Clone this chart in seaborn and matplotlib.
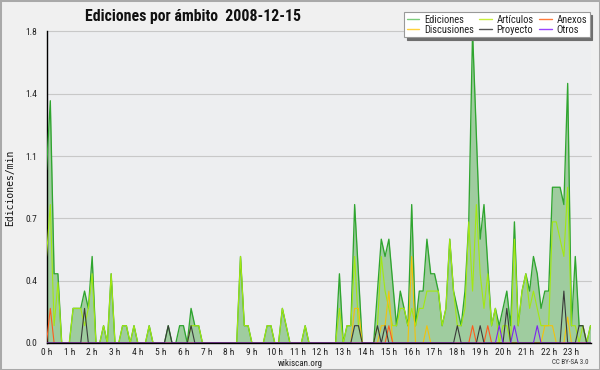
import numpy as np
import pandas as pd
import matplotlib
matplotlib.use("Agg")
import matplotlib.pyplot as plt
import seaborn as sns
from matplotlib import font_manager as fm
from matplotlib.lines import Line2D
from matplotlib.patches import Rectangle

# ---------------- data (10-minute bins, edits per minute) ----------------
hour_labels = [f"{h} h" for h in range(24)]

ediciones = [
    1.0, 1.4, 0.4, 0.4, 0, 0, 0, 0.2, 0.2, 0.2, 0.3, 0.2,
    0.5, 0, 0, 0.1, 0, 0.4, 0, 0, 0.1, 0.1, 0, 0.1,
    0, 0, 0, 0.1, 0, 0, 0, 0, 0.1, 0, 0, 0.1,
    0.1, 0, 0.2, 0.1, 0.1, 0, 0, 0, 0, 0, 0, 0,
    0, 0, 0, 0.5, 0.1, 0.1, 0, 0, 0, 0, 0.1, 0.1,
    0, 0, 0.2, 0.1, 0, 0, 0, 0, 0.1, 0, 0, 0,
    0, 0, 0, 0, 0, 0.4, 0, 0.1, 0.1, 0.8, 0.4, 0,
    0, 0, 0, 0.3, 0.6, 0.5, 0.6, 0.35, 0.1, 0.3, 0.2, 0.1,
    0.8, 0.1, 0.3, 0.3, 0.6, 0.4, 0.4, 0.3, 0.1, 0.2, 0.6, 0.3,
    0.2, 0.1, 0.3, 0.7, 1.8, 1.2, 0.6, 0.8, 0.45, 0.1, 0.2, 0.1,
    0.2, 0.3, 0.1, 0.7, 0.1, 0.3, 0.4, 0.3, 0.5, 0.4, 0.2, 0.3,
    0.3, 0.9, 0.9, 0.9, 0.8, 1.5, 0.1, 0.5, 0.1, 0.1, 0, 0.1,
]

articulos = [
    0.5, 0.8, 0.1, 0.35, 0, 0, 0, 0.2, 0.2, 0.2, 0.1, 0.2,
    0.4, 0, 0, 0.1, 0, 0.4, 0, 0, 0.1, 0.1, 0, 0.1,
    0, 0, 0, 0.1, 0, 0, 0, 0, 0, 0, 0, 0,
    0, 0, 0.1, 0.1, 0.1, 0, 0, 0, 0, 0, 0, 0,
    0, 0, 0, 0.5, 0.1, 0.1, 0, 0, 0, 0, 0.1, 0.1,
    0, 0, 0.2, 0.1, 0, 0, 0, 0, 0.1, 0, 0, 0,
    0, 0, 0, 0, 0, 0.2, 0, 0.1, 0.1, 0.5, 0.1, 0,
    0, 0, 0, 0.1, 0.5, 0.3, 0.2, 0.1, 0.1, 0.2, 0.2, 0.1,
    0.2, 0.1, 0.2, 0.2, 0.3, 0.3, 0.3, 0.3, 0.1, 0.2, 0.6, 0.3,
    0.1, 0.1, 0.2, 0.7, 0.3, 0.8, 0.4, 0.2, 0.4, 0.1, 0.2, 0,
    0.1, 0.1, 0, 0.6, 0.1, 0.3, 0.4, 0.2, 0.3, 0.2, 0.1, 0.1,
    0.1, 0.7, 0.7, 0.6, 0.5, 0.9, 0.1, 0.1, 0, 0.1, 0, 0.1,
]

anexos = [
    0, 0.2, 0, 0, 0, 0, 0, 0, 0, 0, 0, 0,
    0, 0, 0, 0, 0, 0, 0, 0, 0, 0, 0, 0,
    0, 0, 0, 0, 0, 0, 0, 0, 0, 0, 0, 0,
    0, 0, 0, 0, 0, 0, 0, 0, 0, 0, 0, 0,
    0, 0, 0, 0, 0, 0, 0, 0, 0, 0, 0, 0,
    0, 0, 0, 0, 0, 0, 0, 0, 0, 0, 0, 0,
    0, 0, 0, 0, 0, 0, 0, 0, 0, 0, 0, 0,
    0, 0, 0, 0, 0, 0, 0.1, 0, 0, 0, 0, 0,
    0, 0, 0, 0, 0, 0, 0, 0, 0, 0, 0, 0,
    0, 0, 0, 0, 0.1, 0, 0, 0, 0.1, 0, 0, 0,
    0, 0, 0, 0, 0, 0, 0, 0, 0, 0, 0, 0,
    0, 0, 0, 0, 0, 0, 0, 0, 0, 0, 0, 0,
]

discusiones = [
    0, 0, 0, 0, 0, 0, 0, 0, 0, 0, 0, 0,
    0, 0, 0, 0, 0, 0, 0, 0, 0, 0, 0, 0,
    0, 0, 0, 0, 0, 0, 0, 0, 0, 0, 0, 0,
    0, 0, 0, 0, 0, 0, 0, 0, 0, 0, 0, 0,
    0, 0, 0, 0, 0, 0, 0, 0, 0, 0, 0, 0,
    0, 0, 0, 0, 0, 0, 0, 0, 0, 0, 0, 0,
    0, 0, 0, 0, 0, 0, 0, 0, 0, 0.2, 0.2, 0,
    0, 0, 0, 0, 0.1, 0.1, 0.3, 0, 0, 0, 0, 0,
    0.5, 0, 0, 0, 0.1, 0, 0, 0, 0, 0, 0, 0,
    0, 0, 0, 0, 0, 0, 0, 0, 0, 0, 0, 0,
    0, 0, 0, 0, 0, 0, 0, 0, 0, 0, 0, 0.1,
    0.1, 0.1, 0, 0, 0, 0.15, 0, 0, 0, 0, 0, 0,
]

proyecto = [
    0, 0, 0, 0, 0, 0, 0, 0, 0, 0, 0.2, 0,
    0, 0, 0, 0, 0, 0, 0, 0, 0, 0, 0, 0,
    0, 0, 0, 0, 0, 0, 0, 0, 0.1, 0, 0, 0,
    0, 0, 0.1, 0, 0, 0, 0, 0, 0, 0, 0, 0,
    0, 0, 0, 0, 0, 0, 0, 0, 0, 0, 0, 0,
    0, 0, 0, 0, 0, 0, 0, 0, 0, 0, 0, 0,
    0, 0, 0, 0, 0, 0, 0, 0, 0, 0.1, 0.1, 0,
    0, 0, 0, 0.1, 0, 0.1, 0, 0, 0, 0, 0, 0,
    0, 0, 0, 0, 0, 0, 0, 0, 0, 0, 0, 0,
    0.1, 0, 0, 0, 0, 0, 0.1, 0, 0, 0, 0, 0,
    0, 0.2, 0, 0, 0, 0, 0, 0, 0, 0, 0, 0,
    0, 0, 0, 0, 0.3, 0, 0, 0, 0.1, 0.1, 0, 0,
]

otros = [
    0, 0, 0, 0, 0, 0, 0, 0, 0, 0, 0, 0,
    0, 0, 0, 0, 0, 0, 0, 0, 0, 0, 0, 0,
    0, 0, 0, 0, 0, 0, 0, 0, 0, 0, 0, 0,
    0, 0, 0, 0, 0, 0, 0, 0, 0, 0, 0, 0,
    0, 0, 0, 0, 0, 0, 0, 0, 0, 0, 0, 0,
    0, 0, 0, 0, 0, 0, 0, 0, 0, 0, 0, 0,
    0, 0, 0, 0, 0, 0, 0, 0, 0, 0, 0, 0,
    0, 0, 0, 0, 0, 0, 0, 0, 0, 0, 0, 0,
    0, 0, 0, 0, 0, 0, 0, 0, 0, 0, 0, 0,
    0, 0, 0, 0, 0, 0, 0, 0, 0, 0, 0, 0.1,
    0, 0, 0, 0.1, 0, 0, 0, 0, 0, 0.1, 0, 0,
    0, 0, 0, 0, 0, 0, 0, 0, 0, 0, 0, 0,
]

y_tick_values = [0, 0.36, 0.72, 1.08, 1.44, 1.8]
y_tick_labels = ["0.0", "0.4", "0.7", "1.1", "1.4", "1.8"]

# ---------------- fonts ----------------
sns.set_style("white")
families = {f.name for f in fm.fontManager.ttflist}
cond = None
for cand in ["DejaVu Sans Condensed", "Liberation Sans Narrow", "Roboto Condensed", "Open Sans Condensed"]:
    if cand in families:
        cond = cand
        break
stretch = "normal"
if cond is None:
    cond = "DejaVu Sans"
    if any(f.name == "DejaVu Sans" and str(f.stretch) in ("condensed", "semi-condensed") for f in fm.fontManager.ttflist):
        stretch = "condensed"
plt.rcParams["font.family"] = [cond, "DejaVu Sans"]
plt.rcParams["font.stretch"] = stretch

# ---------------- figure ----------------
W, H = 600, 370
fig = plt.figure(figsize=(W / 100, H / 100), dpi=100, facecolor="#f0f0f0")
left, right, top, bottom = 46.5, 590.5, 31.5, 343
ax = fig.add_axes([left / W, 1 - bottom / H, (right - left) / W, (bottom - top) / H])
ax.set_facecolor("#edeef0")

n = len(ediciones)
df = pd.DataFrame({
    "i": np.arange(n),
    "Ediciones": ediciones,
    "Artículos": articulos,
    "Anexos": anexos,
    "Discusiones": discusiones,
    "Proyecto": proyecto,
    "Otros": otros,
})

ax.fill_between(df["i"], df["Ediciones"], 0, color="#9fcc9f", lw=0, zorder=1)
line_styles = [
    ("Ediciones", "#2fa52f", 0.95),
    ("Artículos", "#a3e812", 0.8),
    ("Discusiones", "#f2c20c", 0.8),
    ("Anexos", "#ff5b1c", 0.8),
    ("Proyecto", "#3a3a3a", 0.8),
    ("Otros", "#7d25ee", 0.8),
]
for k, (name, col, lw) in enumerate(line_styles):
    sns.lineplot(data=df, x="i", y=name, ax=ax, color=col, lw=lw, zorder=3 + k, legend=False)

ax.set_xlim(0, n - 1)
ax.set_ylim(0, 1.8)
ax.set_xlabel("")
ax.set_ylabel("")

for v in y_tick_values[1:]:
    ax.axhline(v, color="#c8c8c8", lw=0.8, zorder=0.5, clip_on=False)

ax.set_yticks(y_tick_values)
ax.set_yticklabels(y_tick_labels)
ax.set_yticks(np.arange(0, 1.8001, 0.09), minor=True)
ax.set_xticks(np.arange(0, n, 6))
ax.set_xticklabels(hour_labels)
ax.set_xticks(np.arange(0, n), minor=True)

ax.tick_params(axis="both", which="both", direction="out", color="black", width=0.8,
               labelsize=6.8, labelcolor="#222222")
ax.tick_params(axis="y", which="major", length=4, pad=2.5)
ax.tick_params(axis="y", which="minor", length=3)
ax.tick_params(axis="x", which="major", length=3.5, pad=0.3)
ax.tick_params(axis="x", which="minor", length=2.5)
for s in ["top", "right"]:
    ax.spines[s].set_visible(False)
for s in ["left", "bottom"]:
    ax.spines[s].set_color("black")
    ax.spines[s].set_linewidth(1.0)
ax.spines["bottom"].set_zorder(20)

# ---------------- texts ----------------
fig.text(85 / W, 1 - 16.5 / H, "Ediciones por ámbito  2008-12-15", ha="left", va="center",
         fontsize=11.4, fontweight="bold", color="#111111")
fig.text(10 / W, 1 - 188 / H, "Ediciones/min", rotation=90, ha="center", va="center",
         fontsize=7, family=["DejaVu Sans Mono", "DejaVu Sans"], fontstretch="normal", color="#111111")
fig.text(300 / W, 1 - 363 / H, "wikiscan.org", ha="center", va="center", fontsize=6.5, color="#222222")
fig.text(589 / W, 1 - 363 / H, "CC BY-SA 3.0", ha="right", va="center", fontsize=5, color="#333333")

# ---------------- legend ----------------
handles = [
    Line2D([], [], color="#7ccc7c", lw=1, label="Ediciones"),
    Line2D([], [], color="#ffd23c", lw=1, label="Discusiones"),
    Line2D([], [], color="#c8ee3a", lw=1, label="Artículos"),
    Line2D([], [], color="#555555", lw=1, label="Proyecto"),
    Line2D([], [], color="#ff7a3a", lw=1, label="Anexos"),
    Line2D([], [], color="#9a44ff", lw=1, label="Otros"),
]
leg = fig.legend(handles=handles, ncol=3, loc="upper left", bbox_to_anchor=(404 / W, 1 - 12 / H),
                 frameon=True, fancybox=False, shadow={"color": "#6e6e6e", "alpha": 1.0},
                 fontsize=7.6, handlelength=1.2, handletextpad=0.45, columnspacing=0.5,
                 labelspacing=0.0, borderpad=0.25, borderaxespad=0)
leg.get_frame().set_facecolor("white")
leg.get_frame().set_edgecolor("#999999")
leg.get_frame().set_linewidth(0.8)
for t in leg.get_texts():
    t.set_color("#222222")

# figure border
fig.patches.append(Rectangle((0, 0), 1, 1, transform=fig.transFigure, fill=False,
                             edgecolor="#a9a9a9", lw=2.2, zorder=100))

fig.savefig("out.png", dpi=100, facecolor=fig.get_facecolor())
